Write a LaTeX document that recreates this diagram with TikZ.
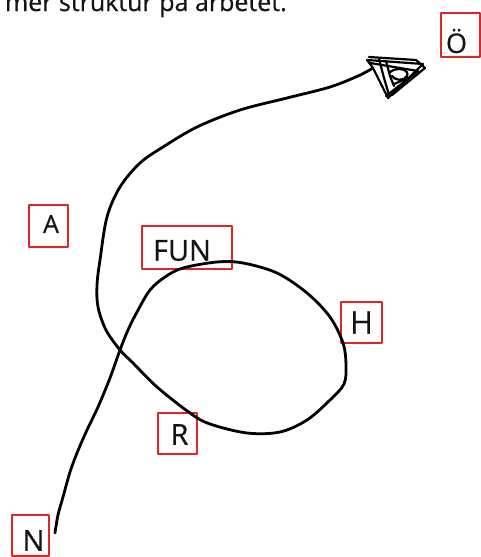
\documentclass[tikz,border=0pt]{standalone}
\usepackage{fontspec}
\setmainfont{Open Sans}
\newfontfamily\lblfont{Open Sans}[FakeBold=0.5]
\definecolor{boxred}{RGB}{222,38,38}
\definecolor{ink}{RGB}{20,20,20}
\newcommand\lblshift[3]{\raisebox{#2}[\height][\depth]{\makebox[0pt]{\hspace*{#1}\hspace*{#1}#3}}}
\begin{document}
\begin{tikzpicture}[x=1pt,y=-1pt,line join=round,line cap=round,
  lbl/.style={draw=boxred,line width=1.6pt,inner sep=0pt,text=ink,anchor=center},
  pen/.style={draw=black,line width=2.8pt},
  scrib/.style={draw=black,line width=2.2pt}]
\useasboundingbox (0,0) rectangle (481,557);
\fill[white] (0,0) rectangle (481,557);
% partially visible heading
\node[anchor=base east,inner sep=0pt,text=ink,font=\lblfont\fontsize{25}{26}\selectfont] (title) at (287,11) {mer struktur på arbetet.};
% labels
\node[lbl,minimum width=39pt,minimum height=44pt,font=\lblfont\fontsize{27}{27}\selectfont] (O) at (460.5,35) {\lblshift{-4pt}{-6pt}{Ö}};
\node[lbl,minimum width=39pt,minimum height=42pt,font=\lblfont\fontsize{25}{25}\selectfont] (A) at (48.5,226) {\lblshift{2.5pt}{2pt}{A}};
\node[lbl,minimum width=90pt,minimum height=43pt,font=\lblfont\fontsize{29}{29}\selectfont] (FUN) at (187,247.5) {\lblshift{-5pt}{-3pt}{FUN}};
\node[lbl,minimum width=41pt,minimum height=41pt,font=\lblfont\fontsize{31}{31}\selectfont] (H) at (361.5,322.5) {\lblshift{0pt}{0pt}{H}};
\node[lbl,minimum width=39pt,minimum height=41pt,font=\lblfont\fontsize{29}{29}\selectfont] (R) at (177.5,433.5) {\lblshift{2pt}{-1pt}{R}};
\node[lbl,minimum width=37pt,minimum height=41pt,font=\lblfont\fontsize{29}{29}\selectfont] (N) at (30.5,535.5) {\lblshift{3pt}{-5pt}{N}};
% hand-drawn path
\coordinate (start) at (55,533);
\coordinate (cross) at (120,350);
\coordinate (tipbase) at (373,68);
\draw[pen] plot[smooth,tension=0.55] coordinates {
 (start) (58,515) (63,497) (70,472) (77,453) (87,430) (98,407) (110,378) (cross)
 (128,330) (137,312) (150,290) (165,277) (183,268) (217,262) (243,263) (277,273)
 (307,293) (330,317) (343,343) (346,365) (344,384) (330,400) (307,420) (280,432)
 (247,433) (210,424) (190,413) (157,387) (133,363) (cross) (106,330) (98,307)
 (97,285) (100,260) (107,217) (120,187) (140,163) (163,147) (197,127) (240,110)
 (287,98) (330,87) (358,76) (tipbase)};
% scribbled arrowhead
\draw[scrib] (tipbase) -- (367,60) -- (423,64) -- (388,98) -- cycle;
\draw[scrib] (369,57) -- (416,60) -- (425,68) -- (392,95);
\draw[scrib] (370,63) -- (418,71) -- (386,96);
\draw[scrib] (379,59) -- (384,78) -- (389,95);
\draw[scrib] (386,61) -- (390,76) -- (394,86);
\draw[scrib] (390,72) .. controls (398,66) and (410,70) .. (407,76) .. controls (404,82) and (394,80) .. (392,76);
\draw[scrib] (394,84) -- (408,78);
\end{tikzpicture}
\end{document}
